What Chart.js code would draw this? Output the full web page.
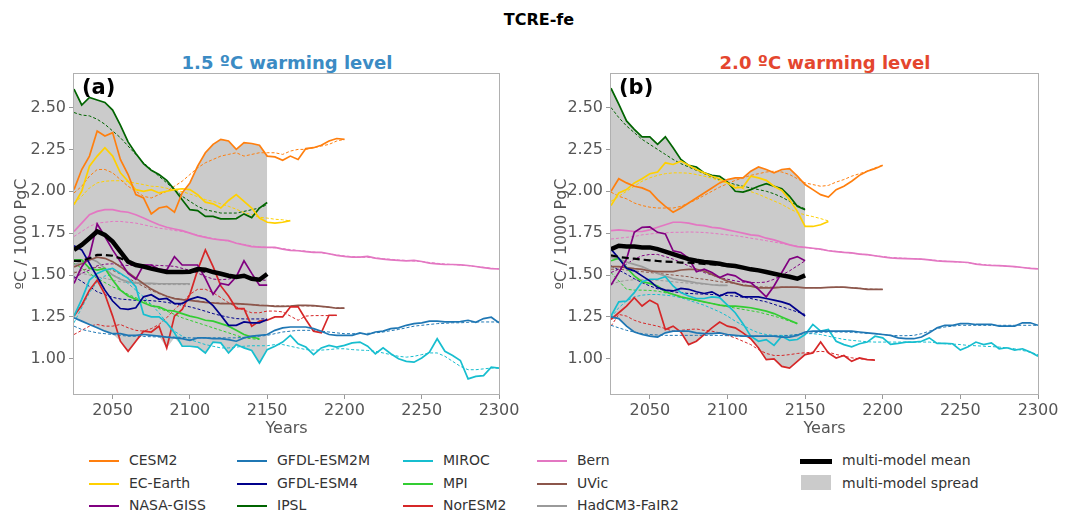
<!DOCTYPE html>
<html>
<head>
<meta charset="utf-8">
<script src="https://cdn.jsdelivr.net/npm/chart.js@4.4.1/dist/chart.umd.min.js"></script>
<style>
body { margin: 0; background: #fff; font-family: 'DejaVu Sans', sans-serif; }
#wrap { position: relative; width: 1078px; height: 516px; overflow: hidden; background: #fff; }
canvas { position: absolute; }
.t { position: absolute; white-space: nowrap; transform: translate(-50%, -50%); }
.lab { position: absolute; white-space: nowrap; font-weight: bold; font-size: 21px; color: #000; }
.lg { position: absolute; font-size: 14px; color: #333; white-space: nowrap; }
.lg span.s { position: absolute; top: 50%; }
</style>
</head>
<body>
<div id="wrap">
  <div class="t" style="left:539px;top:19px;font-weight:bold;font-size:16px;color:#000">TCRE-fe</div>
  <div class="t" style="left:287px;top:62px;font-weight:bold;font-size:18px;color:#3b8bc4">1.5 ºC warming level</div>
  <div class="t" style="left:825px;top:62px;font-weight:bold;font-size:18px;color:#e4462e">2.0 ºC warming level</div>
  <canvas id="chartA" width="520" height="380" style="left:0;top:60px"></canvas>
  <canvas id="chartB" width="538" height="380" style="left:540px;top:60px"></canvas>
  <div class="lab" style="left:82px;top:75px">(a)</div>
  <div class="lab" style="left:619px;top:75px">(b)</div>
  <div id="legend"></div>
</div>
<script>
// years on the x axis (5-year steps)
const years = [2025,2030,2035,2040,2045,2050,2055,2060,2065,2070,2075,2080,2085,2090,2095,2100,
  2105,2110,2115,2120,2125,2130,2135,2140,2145,2150,2155,2160,2165,2170,2175,2180,2185,2190,2195,2200,
  2205,2210,2215,2220,2225,2230,2235,2240,2245,2250,2255,2260,2265,2270,2275,2280,2285,2290,2295,2300];
const xTicks = [2050, 2100, 2150, 2200, 2250, 2300];
const yTicks = [1.00, 1.25, 1.50, 1.75, 2.00, 2.25, 2.50];

const models = ['CESM2','EC-Earth','NASA-GISS','GFDL-ESM2M','GFDL-ESM4','IPSL','MIROC','MPI','NorESM2','Bern','UVic','HadCM3-FaIR2'];
const colors = ['#ff7f0e','#ffd000','#800080','#1f77b4','#00008b','#006400','#17becf','#32cd32','#d62728','#e377c2','#8c564b','#9a9a9a'];

// ---- panel (a): 1.5 ºC ----
const a_CESM2  = [2.01,2.13,2.21,2.36,2.33,2.35,2.19,2.10,1.98,1.96,1.865,1.90,1.91,1.875,1.99,2.05,2.15,2.23,2.28,2.31,2.30,2.25,2.29,2.285,2.275,2.21,2.205,2.185,2.21,2.19,2.255,2.26,2.275,2.30,2.315,2.31];
const a_CESM2d = [1.99,2.03,2.09,2.13,2.13,2.11,2.07,2.03,2.0,1.97,1.96,1.98,2.0,2.03,2.06,2.10,2.14,2.17,2.19,2.21,2.22,2.23,2.21,2.22,2.23,2.23,2.23,2.22,2.24,2.25,2.25,2.26,2.27,2.28,2.30,2.31];
const a_EC     = [1.92,2.0,2.15,2.21,2.26,2.21,2.11,2.06,2.01,2.0,2.01,1.99,2.0,2.01,2.015,2.01,1.98,1.935,1.925,1.90,1.945,1.98,1.94,1.90,1.84,1.815,1.81,1.815,1.825];
const a_ECd    = [1.93,1.97,2.02,2.05,2.06,2.063,2.063,2.058,2.048,2.04,2.03,2.028,2.018,2.008,1.998,1.984,1.968,1.95,1.94,1.925,1.91,1.893,1.873,1.86,1.845,1.84,1.833,1.83,1.823];
const a_GISS   = [1.45,1.55,1.615,1.805,1.73,1.65,1.58,1.51,1.475,1.56,1.56,1.535,1.53,1.61,1.56,1.56,1.56,1.48,1.385,1.45,1.44,1.49,1.585,1.51,1.44,1.44];
const a_GISSd  = [1.48,1.51,1.53,1.555,1.565,1.567,1.56,1.557,1.557,1.56,1.56,1.557,1.555,1.552,1.54,1.528,1.512,1.492,1.476,1.472,1.476,1.488,1.492,1.482,1.472,1.468];
const a_ESM2M  = [1.245,1.225,1.205,1.185,1.165,1.15,1.15,1.14,1.14,1.145,1.14,1.135,1.13,1.125,1.12,1.11,1.125,1.125,1.12,1.12,1.115,1.105,1.125,1.135,1.14,1.145,1.17,1.185,1.19,1.19,1.19,1.18,1.165,1.145,1.14,1.14,1.14,1.155,1.145,1.16,1.165,1.18,1.185,1.2,1.21,1.215,1.225,1.225,1.22,1.22,1.222,1.23,1.218,1.24,1.248,1.215];
const a_ESM2Md = [1.195,1.175,1.165,1.155,1.15,1.145,1.14,1.135,1.135,1.133,1.132,1.13,1.13,1.13,1.128,1.125,1.125,1.125,1.125,1.125,1.125,1.125,1.128,1.13,1.135,1.14,1.15,1.16,1.165,1.17,1.17,1.17,1.165,1.16,1.155,1.15,1.15,1.15,1.152,1.155,1.16,1.168,1.175,1.185,1.195,1.2,1.205,1.21,1.212,1.215,1.215,1.218,1.22,1.22,1.22,1.22];
const a_ESM4   = [1.675,1.65,1.57,1.49,1.41,1.345,1.3,1.295,1.305,1.37,1.383,1.355,1.36,1.33,1.33,1.355,1.37,1.357,1.317,1.26,1.2,1.2,1.22,1.215,1.215,1.235];
const a_ESM4d  = [1.49,1.462,1.432,1.40,1.383,1.367,1.357,1.353,1.349,1.349,1.347,1.343,1.337,1.329,1.319,1.31,1.298,1.284,1.27,1.258,1.248,1.24,1.238,1.238,1.238,1.238];
const a_IPSL   = [2.61,2.515,2.56,2.545,2.53,2.485,2.395,2.295,2.225,2.165,2.125,2.1,2.065,2.01,1.95,1.89,1.885,1.85,1.85,1.835,1.835,1.837,1.865,1.843,1.9,1.933];
const a_IPSLd  = [2.47,2.455,2.45,2.43,2.40,2.36,2.32,2.27,2.22,2.17,2.13,2.09,2.05,2.01,1.97,1.94,1.91,1.89,1.88,1.87,1.87,1.87,1.88,1.89,1.90,1.92];
const a_MIROC  = [1.255,1.355,1.47,1.51,1.53,1.54,1.51,1.48,1.43,1.265,1.25,1.25,1.215,1.155,1.075,1.075,1.07,1.035,1.10,1.095,1.035,1.085,1.065,1.05,0.975,1.055,1.075,1.10,1.14,1.09,1.07,1.025,1.065,1.08,1.07,1.08,1.095,1.10,1.075,1.03,1.065,1.03,1.00,0.985,0.98,1.005,1.04,1.12,1.045,1.02,0.99,0.88,0.895,0.90,0.95,0.945];
const a_MIROCd = [1.215,1.305,1.395,1.46,1.495,1.50,1.48,1.45,1.41,1.37,1.325,1.275,1.215,1.165,1.135,1.115,1.10,1.085,1.075,1.065,1.065,1.07,1.075,1.078,1.078,1.078,1.085,1.085,1.075,1.065,1.055,1.052,1.052,1.055,1.06,1.06,1.055,1.052,1.05,1.045,1.035,1.025,1.015,1.01,1.015,1.025,1.035,1.035,1.015,0.985,0.955,0.935,0.935,0.94,0.945,0.945];
const a_MPI    = [1.59,1.59,1.54,1.53,1.54,1.47,1.41,1.375,1.355,1.335,1.315,1.31,1.29,1.285,1.27,1.255,1.245,1.23,1.225,1.21,1.195,1.17,1.145,1.13,1.12];
const a_MPId   = [1.57,1.54,1.51,1.48,1.455,1.43,1.41,1.385,1.365,1.345,1.325,1.30,1.285,1.265,1.245,1.23,1.215,1.2,1.185,1.17,1.155,1.14,1.125,1.12,1.115];
const a_Nor    = [1.255,1.32,1.41,1.47,1.385,1.255,1.105,1.045,1.105,1.165,1.16,1.195,1.065,1.255,1.295,1.385,1.53,1.65,1.55,1.435,1.375,1.30,1.30,1.195,1.225,1.23,1.25,1.25,1.31,1.31,1.235,1.165,1.155,1.26,1.26];
const a_Nord   = [1.145,1.17,1.195,1.205,1.195,1.195,1.205,1.185,1.17,1.165,1.18,1.205,1.245,1.295,1.335,1.385,1.415,1.415,1.395,1.365,1.335,1.31,1.29,1.275,1.275,1.285,1.285,1.28,1.255,1.23,1.255,1.258,1.258,1.258,1.258];
const a_Bern   = [1.76,1.81,1.86,1.88,1.89,1.89,1.88,1.875,1.86,1.84,1.82,1.80,1.785,1.775,1.765,1.75,1.735,1.725,1.715,1.71,1.705,1.69,1.68,1.67,1.667,1.665,1.665,1.655,1.647,1.645,1.64,1.635,1.635,1.627,1.617,1.611,1.607,1.607,1.611,1.601,1.595,1.591,1.587,1.585,1.587,1.581,1.571,1.567,1.563,1.563,1.561,1.557,1.551,1.544,1.538,1.536];
const a_Bernd  = [1.73,1.76,1.79,1.81,1.815,1.82,1.82,1.815,1.81,1.80,1.79,1.78,1.774,1.766,1.76,1.75,1.738,1.728,1.718,1.71,1.702,1.692,1.682,1.674,1.668,1.665,1.662,1.658,1.652,1.647,1.643,1.638,1.633,1.627,1.62,1.614,1.61,1.607,1.605,1.602,1.598,1.594,1.59,1.587,1.584,1.58,1.575,1.57,1.566,1.563,1.56,1.556,1.551,1.546,1.541,1.537];
const a_UVic   = [1.548,1.567,1.59,1.607,1.60,1.58,1.55,1.516,1.482,1.448,1.416,1.393,1.373,1.359,1.353,1.349,1.343,1.337,1.333,1.329,1.329,1.329,1.327,1.323,1.319,1.317,1.313,1.313,1.315,1.319,1.319,1.317,1.313,1.308,1.302,1.302];
const a_UVicd  = [1.512,1.528,1.54,1.546,1.54,1.528,1.506,1.482,1.456,1.432,1.408,1.389,1.373,1.361,1.355,1.35,1.345,1.34,1.335,1.332,1.33,1.328,1.326,1.323,1.32,1.318,1.316,1.315,1.315,1.316,1.316,1.315,1.312,1.308,1.304,1.302];
const a_Had    = [1.56,1.58,1.60,1.58,1.54,1.50,1.475,1.46,1.455,1.45,1.45,1.448,1.448,1.448,1.448,1.448];
const a_Hadd   = [1.52,1.51,1.50,1.49,1.48,1.47,1.46,1.455,1.45,1.447,1.445,1.444,1.443,1.443,1.443,1.443];
const a_mean   = [1.65,1.68,1.72,1.76,1.74,1.70,1.64,1.58,1.56,1.551,1.538,1.528,1.518,1.518,1.518,1.52,1.536,1.532,1.518,1.508,1.496,1.488,1.496,1.478,1.472,1.506];
const a_meanD  = [1.585,1.585,1.60,1.62,1.62,1.615,1.60,1.58,1.56,1.55,1.54,1.53,1.525,1.52,1.52,1.52,1.524,1.52];
const a_hi     = [2.61,2.515,2.56,2.545,2.53,2.485,2.395,2.295,2.225,2.165,2.125,2.1,2.065,2.01,1.99,2.05,2.15,2.23,2.28,2.31,2.30,2.25,2.29,2.285,2.275,2.21];
const a_lo     = [1.245,1.225,1.205,1.185,1.165,1.15,1.105,1.045,1.105,1.145,1.14,1.135,1.065,1.125,1.075,1.075,1.07,1.035,1.10,1.095,1.035,1.085,1.065,1.05,0.975,1.055];

// ---- panel (b): 2.0 ºC ----
const b_CESM2  = [2.0,2.075,2.05,2.03,2.02,2.0,1.95,1.91,1.875,1.90,1.93,1.96,1.99,2.02,2.05,2.07,2.08,2.08,2.12,2.145,2.13,2.11,2.13,2.135,2.09,2.04,2.01,1.98,1.965,2.01,2.03,2.06,2.095,2.12,2.135,2.155];
const b_CESM2d = [1.995,1.97,1.955,1.93,1.915,1.905,1.9,1.9,1.9,1.91,1.93,1.95,1.975,2.0,2.025,2.045,2.065,2.08,2.095,2.105,2.115,2.12,2.115,2.10,2.075,2.05,2.04,2.03,2.035,2.055,2.07,2.09,2.105,2.12,2.14,2.155];
const b_EC     = [1.915,1.99,2.01,2.05,2.075,2.105,2.115,2.17,2.16,2.18,2.155,2.13,2.11,2.09,2.075,2.05,2.02,2.025,2.09,2.08,2.065,2.03,2.005,1.95,1.88,1.79,1.79,1.80,1.82];
const b_ECd    = [1.94,1.97,2.0,2.03,2.06,2.08,2.095,2.105,2.11,2.11,2.108,2.10,2.09,2.078,2.062,2.048,2.032,2.016,1.998,1.982,1.962,1.942,1.922,1.896,1.873,1.859,1.849,1.837,1.823];
const b_GISS   = [1.44,1.515,1.595,1.755,1.785,1.787,1.755,1.745,1.645,1.635,1.60,1.52,1.535,1.515,1.485,1.505,1.495,1.465,1.455,1.415,1.37,1.435,1.515,1.595,1.61,1.585];
const b_GISSd  = [1.515,1.535,1.565,1.595,1.615,1.623,1.623,1.61,1.595,1.575,1.555,1.535,1.515,1.5,1.485,1.475,1.465,1.458,1.455,1.455,1.458,1.475,1.5,1.525,1.555,1.585];
const b_ESM2M  = [1.25,1.24,1.195,1.16,1.145,1.135,1.13,1.155,1.165,1.165,1.165,1.155,1.15,1.15,1.155,1.145,1.14,1.135,1.135,1.135,1.135,1.135,1.13,1.13,1.14,1.16,1.165,1.165,1.165,1.165,1.165,1.165,1.16,1.155,1.15,1.145,1.14,1.125,1.12,1.12,1.13,1.155,1.185,1.20,1.20,1.21,1.21,1.205,1.205,1.205,1.195,1.195,1.195,1.215,1.215,1.20];
const b_ESM2Md = [1.2,1.185,1.17,1.16,1.15,1.145,1.142,1.14,1.14,1.14,1.14,1.14,1.14,1.14,1.14,1.138,1.136,1.135,1.135,1.135,1.135,1.135,1.137,1.14,1.145,1.15,1.155,1.158,1.16,1.16,1.16,1.158,1.155,1.152,1.15,1.145,1.14,1.138,1.138,1.14,1.15,1.165,1.18,1.19,1.195,1.2,1.2,1.2,1.2,1.2,1.2,1.2,1.2,1.2,1.2,1.2];
const b_ESM4   = [1.655,1.6,1.54,1.525,1.495,1.465,1.425,1.41,1.405,1.42,1.415,1.4,1.39,1.4,1.375,1.395,1.395,1.37,1.37,1.37,1.36,1.35,1.34,1.325,1.29,1.255];
const b_ESM4d  = [1.555,1.53,1.505,1.478,1.455,1.435,1.418,1.408,1.40,1.395,1.39,1.388,1.386,1.384,1.382,1.378,1.374,1.368,1.36,1.35,1.34,1.325,1.31,1.295,1.28,1.265];
const b_IPSL   = [2.615,2.52,2.42,2.37,2.325,2.325,2.28,2.325,2.26,2.19,2.155,2.145,2.11,2.095,2.09,2.055,2.0,1.995,2.01,2.03,2.045,2.03,2.015,1.97,1.91,1.89];
const b_IPSLd  = [2.50,2.44,2.39,2.35,2.31,2.28,2.25,2.22,2.19,2.165,2.145,2.125,2.105,2.085,2.07,2.055,2.04,2.03,2.02,2.01,2.0,1.985,1.965,1.94,1.915,1.895];
const b_MIROC  = [1.255,1.34,1.345,1.395,1.46,1.475,1.475,1.49,1.435,1.395,1.375,1.36,1.36,1.37,1.365,1.32,1.275,1.21,1.135,1.105,1.115,1.08,1.135,1.11,1.115,1.145,1.205,1.165,1.175,1.105,1.085,1.072,1.09,1.10,1.135,1.125,1.086,1.092,1.10,1.10,1.105,1.125,1.092,1.092,1.09,1.052,1.072,1.10,1.085,1.095,1.06,1.066,1.052,1.06,1.04,1.016];
const b_MIROCd = [1.245,1.305,1.345,1.37,1.38,1.384,1.384,1.38,1.375,1.365,1.35,1.335,1.32,1.3,1.28,1.255,1.225,1.2,1.175,1.155,1.145,1.14,1.14,1.14,1.145,1.15,1.15,1.145,1.135,1.125,1.116,1.11,1.106,1.102,1.1,1.1,1.1,1.1,1.1,1.1,1.1,1.1,1.095,1.09,1.088,1.085,1.08,1.078,1.075,1.073,1.07,1.065,1.06,1.05,1.04,1.025];
const b_MPI    = [1.585,1.6,1.545,1.495,1.46,1.45,1.435,1.4,1.385,1.37,1.36,1.35,1.34,1.33,1.32,1.315,1.315,1.31,1.305,1.295,1.285,1.27,1.25,1.23,1.21];
const b_MPId   = [1.515,1.465,1.415,1.41,1.41,1.408,1.404,1.394,1.384,1.37,1.358,1.348,1.339,1.331,1.321,1.311,1.303,1.295,1.287,1.279,1.267,1.255,1.241,1.225,1.211];
const b_Nor    = [1.235,1.275,1.315,1.365,1.315,1.35,1.325,1.175,1.195,1.16,1.085,1.105,1.145,1.185,1.22,1.195,1.185,1.155,1.12,1.065,0.995,1.0,0.955,0.945,0.985,1.025,1.035,1.10,1.035,1.005,1.02,0.985,1.005,0.995,0.992];
const b_Nord   = [1.195,1.265,1.255,1.23,1.215,1.205,1.195,1.18,1.165,1.17,1.175,1.178,1.17,1.165,1.155,1.14,1.125,1.105,1.085,1.055,1.032,1.02,1.02,1.025,1.032,1.036,1.04,1.045,1.04,1.026,1.016,1.006,1.0,0.996,0.996];
const b_Bern   = [1.765,1.77,1.765,1.76,1.76,1.77,1.785,1.80,1.815,1.815,1.81,1.80,1.795,1.785,1.78,1.77,1.76,1.75,1.74,1.735,1.72,1.71,1.695,1.68,1.67,1.665,1.66,1.655,1.645,1.64,1.635,1.632,1.625,1.622,1.615,1.608,1.603,1.60,1.598,1.597,1.595,1.59,1.585,1.582,1.58,1.578,1.575,1.565,1.56,1.557,1.556,1.553,1.55,1.545,1.54,1.537];
const b_Bernd  = [1.715,1.72,1.725,1.73,1.74,1.745,1.75,1.752,1.755,1.755,1.757,1.756,1.754,1.75,1.745,1.74,1.735,1.728,1.72,1.713,1.705,1.697,1.688,1.68,1.672,1.665,1.658,1.652,1.646,1.641,1.636,1.631,1.626,1.621,1.615,1.61,1.605,1.602,1.6,1.598,1.595,1.591,1.587,1.583,1.58,1.577,1.573,1.568,1.563,1.559,1.556,1.553,1.549,1.545,1.541,1.537];
const b_UVic   = [1.55,1.55,1.544,1.538,1.534,1.524,1.52,1.52,1.52,1.53,1.534,1.534,1.524,1.504,1.484,1.464,1.45,1.438,1.434,1.424,1.424,1.424,1.428,1.428,1.428,1.424,1.424,1.424,1.426,1.428,1.428,1.424,1.42,1.414,1.414,1.414];
const b_UVicd  = [1.535,1.535,1.53,1.525,1.52,1.515,1.51,1.505,1.5,1.495,1.49,1.48,1.475,1.468,1.46,1.455,1.45,1.442,1.435,1.43,1.428,1.427,1.427,1.427,1.426,1.425,1.425,1.425,1.426,1.427,1.427,1.425,1.421,1.417,1.415,1.414];
const b_Had    = [1.605,1.595,1.578,1.564,1.55,1.53,1.51,1.494,1.478,1.47,1.462,1.454,1.448,1.442,1.438,1.438];
const b_Hadd   = [1.445,1.46,1.468,1.472,1.472,1.47,1.468,1.465,1.46,1.455,1.452,1.448,1.445,1.442,1.44,1.438];
const b_mean   = [1.655,1.675,1.67,1.67,1.665,1.665,1.655,1.64,1.625,1.61,1.595,1.585,1.578,1.574,1.568,1.558,1.554,1.544,1.534,1.528,1.518,1.508,1.498,1.49,1.478,1.498];
const b_meanD  = [1.618,1.608,1.602,1.598,1.592,1.588,1.584,1.58,1.578,1.574,1.574,1.57,1.566,1.564,1.56,1.554,1.55,1.545];
const b_hi     = [2.615,2.52,2.42,2.37,2.325,2.325,2.28,2.325,2.26,2.19,2.155,2.145,2.11,2.095,2.09,2.07,2.08,2.08,2.12,2.145,2.13,2.11,2.13,2.135,2.09,2.04];
const b_lo     = [1.235,1.24,1.195,1.16,1.145,1.135,1.13,1.155,1.165,1.16,1.085,1.105,1.145,1.15,1.155,1.145,1.14,1.135,1.12,1.065,0.995,1.0,0.955,0.945,0.985,1.025];

const solidA  = [a_CESM2, a_EC, a_GISS, a_ESM2M, a_ESM4, a_IPSL, a_MIROC, a_MPI, a_Nor, a_Bern, a_UVic, a_Had];
const dashedA = [a_CESM2d, a_ECd, a_GISSd, a_ESM2Md, a_ESM4d, a_IPSLd, a_MIROCd, a_MPId, a_Nord, a_Bernd, a_UVicd, a_Hadd];
const solidB  = [b_CESM2, b_EC, b_GISS, b_ESM2M, b_ESM4, b_IPSL, b_MIROC, b_MPI, b_Nor, b_Bern, b_UVic, b_Had];
const dashedB = [b_CESM2d, b_ECd, b_GISSd, b_ESM2Md, b_ESM4d, b_IPSLd, b_MIROCd, b_MPId, b_Nord, b_Bernd, b_UVicd, b_Hadd];

const pts = vals => vals.map((v, i) => ({x: years[i], y: v}));

function buildDatasets(solid, dashed, mean, meanD, hi, lo) {
  const ds = [];
  ds.push({data: pts(lo), borderWidth: 0, borderColor: 'rgba(0,0,0,0)', fill: false, order: 50});
  ds.push({data: pts(hi), borderWidth: 0, borderColor: 'rgba(0,0,0,0)', backgroundColor: '#cbcbcb', fill: 0, order: 50});
  for (let i = 0; i < models.length; i++) {
    ds.push({label: models[i] + ' fit', data: pts(dashed[i]), borderColor: colors[i], borderWidth: 1, borderDash: [3, 2], order: 20 + i});
    ds.push({label: models[i], data: pts(solid[i]), borderColor: colors[i], borderWidth: 1.7, order: 5 + i});
  }
  ds.push({label: 'mean fit', data: pts(meanD), borderColor: '#000', borderWidth: 2.2, borderDash: [7, 4], order: 2});
  ds.push({label: 'multi-model mean', data: pts(mean), borderColor: '#000', borderWidth: 4.5, order: 1});
  return ds;
}

const frame = {
  id: 'frame',
  afterDatasetsDraw(chart) {
    const a = chart.chartArea, c = chart.ctx;
    c.save();
    c.strokeStyle = '#b0b0b0';
    c.lineWidth = 1;
    c.strokeRect(a.left - 0.5, a.top - 0.5, a.right - a.left + 1, a.bottom - a.top + 1);
    c.restore();
  }
};

function makeChart(id, yWidth, padRight, datasets) {
  const tickFont = {family: 'DejaVu Sans', size: 16};
  new Chart(document.getElementById(id), {
    type: 'line',
    data: {datasets: datasets},
    options: {
      responsive: false,
      animation: false,
      layout: {padding: {left: 0, right: padRight, top: 14, bottom: 0}},
      elements: {point: {radius: 0}, line: {tension: 0, fill: false}},
      plugins: {legend: {display: false}, tooltip: {enabled: false}},
      scales: {
        x: {
          type: 'linear', min: 2025, max: 2300,
          afterBuildTicks: s => { s.ticks = xTicks.map(v => ({value: v})); },
          afterFit: s => { s.height = 46; s.paddingLeft = 0; s.paddingRight = 0; },
          ticks: {font: tickFont, color: '#555', padding: 2, maxRotation: 0, callback: v => String(v)},
          grid: {drawOnChartArea: false, drawTicks: true, tickLength: 5, color: '#999'},
          border: {display: false},
          title: {display: true, text: 'Years', font: {family: 'DejaVu Sans', size: 16}, color: '#555', padding: {top: 0, bottom: 2}}
        },
        y: {
          min: 0.79, max: 2.70,
          afterBuildTicks: s => { s.ticks = yTicks.map(v => ({value: v})); },
          afterFit: s => { s.width = yWidth; s.paddingTop = 0; s.paddingBottom = 0; },
          ticks: {font: tickFont, color: '#555', padding: 3, callback: v => v.toFixed(2)},
          grid: {drawOnChartArea: false, drawTicks: true, tickLength: 5, color: '#999'},
          border: {display: false},
          title: {display: true, text: 'ºC / 1000 PgC', font: {family: 'DejaVu Sans', size: 16}, color: '#555', padding: {top: 12, bottom: 0}}
        }
      }
    },
    plugins: [frame]
  });
}

makeChart('chartA', 74, 21, buildDatasets(solidA, dashedA, a_mean, a_meanD, a_hi, a_lo));
makeChart('chartB', 71, 40, buildDatasets(solidB, dashedB, b_mean, b_meanD, b_hi, b_lo));

// legend
const legend = document.getElementById('legend');
const colText = [129, 277, 443, 577];
const colLine = [89, 237, 403, 537];
const rowY = [461, 484, 506];
models.forEach((m, i) => {
  const c = Math.floor(i / 3), r = i % 3;
  const line = document.createElement('div');
  line.style.cssText = `position:absolute;left:${colLine[c]}px;top:${rowY[r] - 1}px;width:30px;height:2px;background:${colors[i]}`;
  legend.appendChild(line);
  const t = document.createElement('div');
  t.className = 'lg';
  t.style.left = colText[c] + 'px';
  t.style.top = (rowY[r] - 9) + 'px';
  t.textContent = m;
  legend.appendChild(t);
});
const extra = [
  {text: 'multi-model mean', css: 'left:800px;top:459px;width:32px;height:5px;background:#000'},
  {text: 'multi-model spread', css: 'left:801px;top:475px;width:30px;height:15px;background:#cbcbcb'}
];
extra.forEach((e, k) => {
  const sw = document.createElement('div');
  sw.style.cssText = 'position:absolute;' + e.css;
  legend.appendChild(sw);
  const t = document.createElement('div');
  t.className = 'lg';
  t.style.left = '842px';
  t.style.top = (rowY[k] - 9) + 'px';
  t.textContent = e.text;
  legend.appendChild(t);
});
</script>
</body>
</html>
